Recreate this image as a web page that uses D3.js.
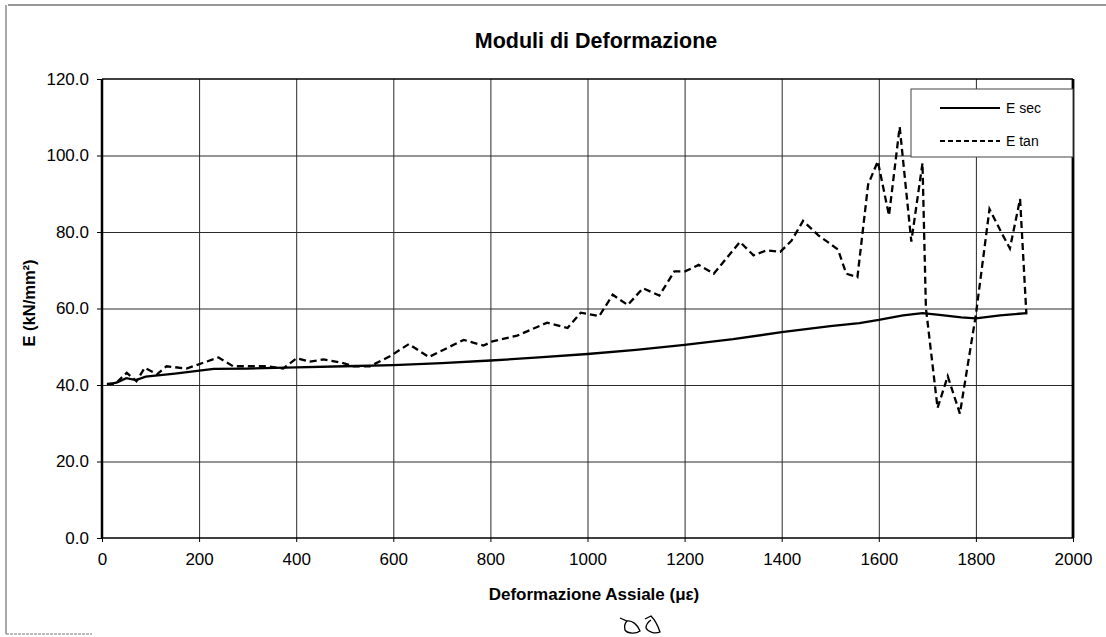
<!DOCTYPE html>
<html><head><meta charset="utf-8">
<script src="https://cdn.jsdelivr.net/npm/d3@7"></script>
<style>
body{margin:0;background:#fff}
svg{display:block}
text{font-family:"Liberation Sans",Arial,sans-serif;fill:#000}
</style>
</head><body>
<svg id="chart" width="1106" height="637"></svg>
<script>
// ---- data ----
const chartTitle = "Moduli di Deformazione";
const xAxisTitle = "Deformazione Assiale (\u03bc\u03b5)";
const yAxisTitle = "E (kN/mm\u00b2)";
const xTicks = [0, 200, 400, 600, 800, 1000, 1200, 1400, 1600, 1800, 2000];
const yTicks = [0, 20, 40, 60, 80, 100, 120];
const seriesNames = ["E sec", "E tan"];

const secX = [12, 30, 50, 70, 90, 150, 230, 300, 400, 500, 600, 700, 800, 900, 1000, 1100, 1200, 1300, 1400, 1500, 1560, 1600, 1650, 1690, 1720, 1770, 1800, 1850, 1905];
const secY = [40.2, 40.6, 41.8, 41.3, 42.2, 43.0, 44.2, 44.3, 44.6, 44.9, 45.2, 45.7, 46.4, 47.2, 48.1, 49.2, 50.5, 52.0, 53.8, 55.4, 56.2, 57.0, 58.2, 58.8, 58.4, 57.7, 57.4, 58.2, 58.8];

const tanX = [10, 27, 51, 71, 88, 113, 133, 174, 240, 270, 339, 373, 401, 428, 456, 497, 518, 552, 593, 632, 673, 745, 786, 804, 855, 917, 959, 986, 1024, 1052, 1083, 1114, 1148, 1179, 1201, 1229, 1260, 1314, 1342, 1369, 1397, 1420, 1444, 1475, 1516, 1533, 1556, 1578, 1598, 1621, 1643, 1667, 1690, 1697, 1721, 1742, 1767, 1800, 1828, 1854, 1870, 1891, 1904];
const tanY = [40.3, 40.3, 43.2, 41.0, 44.5, 42.8, 44.9, 44.3, 47.2, 44.9, 44.9, 44.3, 47.0, 46.1, 46.7, 45.7, 44.9, 44.9, 47.5, 50.7, 47.3, 51.8, 50.3, 51.4, 52.9, 56.3, 54.9, 58.9, 58.0, 63.6, 60.9, 65.3, 63.4, 69.7, 69.7, 71.4, 69.1, 77.4, 73.9, 75.2, 74.8, 77.7, 82.9, 79.2, 75.4, 69.1, 68.2, 92.4, 98.5, 84.3, 107.5, 77.5, 98.0, 60.2, 34.0, 42.3, 32.5, 58.4, 86.0, 79.5, 75.7, 88.6, 58.5];

// ---- layout ----
const W = 1106, H = 637;
const m = {left: 102, right: 1073, top: 79, bottom: 538};
const svg = d3.select("#chart");
const x = d3.scaleLinear().domain([0, 2000]).range([m.left, m.right]);
const y = d3.scaleLinear().domain([0, 120]).range([m.bottom, m.top]);

// outer frame (scan edges)
svg.append("line").attr("x1", 8).attr("x2", W).attr("y1", 5).attr("y2", 5).attr("stroke", "#333").attr("stroke-width", 1.2);
svg.append("line").attr("x1", 6).attr("x2", 6).attr("y1", 5).attr("y2", 634).attr("stroke", "#555").attr("stroke-width", 1);
svg.append("line").attr("x1", 6).attr("x2", 92).attr("y1", 634).attr("y2", 634).attr("stroke", "#777").attr("stroke-width", 1).attr("stroke-dasharray", "3,1");

// grid
const grid = svg.append("g");
grid.append("g").attr("transform", `translate(0,${m.bottom})`)
  .call(d3.axisBottom(x).tickValues(xTicks.slice(1, -1)).tickSize(-(m.bottom - m.top)).tickFormat(""))
  .call(g => g.select(".domain").remove())
  .call(g => g.selectAll("line").attr("stroke", "#2a2a2a").attr("stroke-width", 1));
grid.append("g").attr("transform", `translate(${m.left},0)`)
  .call(d3.axisLeft(y).tickValues(yTicks.slice(1, -1)).tickSize(-(m.right - m.left)).tickFormat(""))
  .call(g => g.select(".domain").remove())
  .call(g => g.selectAll("line").attr("stroke", "#2a2a2a").attr("stroke-width", 1));

// axes
const xa = svg.append("g").attr("transform", `translate(0,${m.bottom})`)
  .call(d3.axisBottom(x).tickValues(xTicks).tickSize(4).tickPadding(11).tickFormat(d3.format("d")));
xa.select(".domain").remove();
xa.selectAll("text").style("font-size", "17px").style("font-family", "'Liberation Sans',Arial,sans-serif");
xa.selectAll("line").attr("stroke", "#000");

const ya = svg.append("g").attr("transform", `translate(${m.left},0)`)
  .call(d3.axisLeft(y).tickValues(yTicks).tickSize(5).tickPadding(8).tickFormat(d3.format(".1f")));
ya.select(".domain").remove();
ya.selectAll("text").style("font-size", "17px").style("font-family", "'Liberation Sans',Arial,sans-serif");
ya.selectAll("line").attr("stroke", "#000");

// plot border
svg.append("line").attr("x1", m.left).attr("x2", m.right).attr("y1", m.top).attr("y2", m.top).attr("stroke", "#000").attr("stroke-width", 1.6);
svg.append("line").attr("x1", m.left).attr("x2", m.right).attr("y1", m.bottom).attr("y2", m.bottom).attr("stroke", "#000").attr("stroke-width", 1.6);
svg.append("line").attr("x1", m.left).attr("x2", m.left).attr("y1", m.top).attr("y2", m.bottom).attr("stroke", "#000").attr("stroke-width", 2.5);
svg.append("line").attr("x1", m.right).attr("x2", m.right).attr("y1", m.top).attr("y2", m.bottom).attr("stroke", "#000").attr("stroke-width", 2.8);

// series
const line = d3.line().x(d => x(d[0])).y(d => y(d[1]));
const secData = secX.map((v, i) => [v, secY[i]]);
const tanData = tanX.map((v, i) => [v, tanY[i]]);
svg.append("path").datum(tanData).attr("d", line).attr("fill", "none").attr("stroke", "#000")
  .attr("stroke-width", 2.3).attr("stroke-dasharray", "7,4");
svg.append("path").datum(secData).attr("d", line).attr("fill", "none").attr("stroke", "#000")
  .attr("stroke-width", 2.3);

// legend
const lg = svg.append("g");
lg.append("rect").attr("x", 911).attr("y", 89).attr("width", m.right - 911).attr("height", 68)
  .attr("fill", "#fff").attr("stroke", "#444").attr("stroke-width", 1);
const legY = [108, 141];
seriesNames.forEach((n, i) => {
  lg.append("line").attr("x1", 940).attr("x2", 1000).attr("y1", legY[i]).attr("y2", legY[i])
    .attr("stroke", "#000").attr("stroke-width", 2).attr("stroke-dasharray", i === 1 ? "5,3" : null);
  lg.append("text").attr("x", 1006).attr("y", legY[i] + 5).style("font-size", "14px").text(n);
});

// titles
svg.append("text").attr("x", 596).attr("y", 48).attr("text-anchor", "middle")
  .style("font-size", "21.5px").style("font-weight", "bold").text(chartTitle);
svg.append("text").attr("x", 594).attr("y", 600).attr("text-anchor", "middle")
  .style("font-size", "17px").style("font-weight", "bold").text(xAxisTitle);
svg.append("text").attr("transform", "translate(35,303) rotate(-90)").attr("text-anchor", "middle")
  .style("font-size", "16.5px").style("font-weight", "bold").text(yAxisTitle);

// handwritten marks
const sk = svg.append("g").attr("fill", "none").attr("stroke", "#000").attr("stroke-width", 1.3);
sk.append("path").attr("d", "M620,618 L627,621 C632,620 638,625 640,631 C636,634 628,634 625,630 C624,626 625,623 627,621");
sk.append("path").attr("d", "M645,619 L651,616 C655,620 658,626 660,632 C655,634 648,632 646,628 C646,625 648,622 651,620");
</script>
</body></html>
